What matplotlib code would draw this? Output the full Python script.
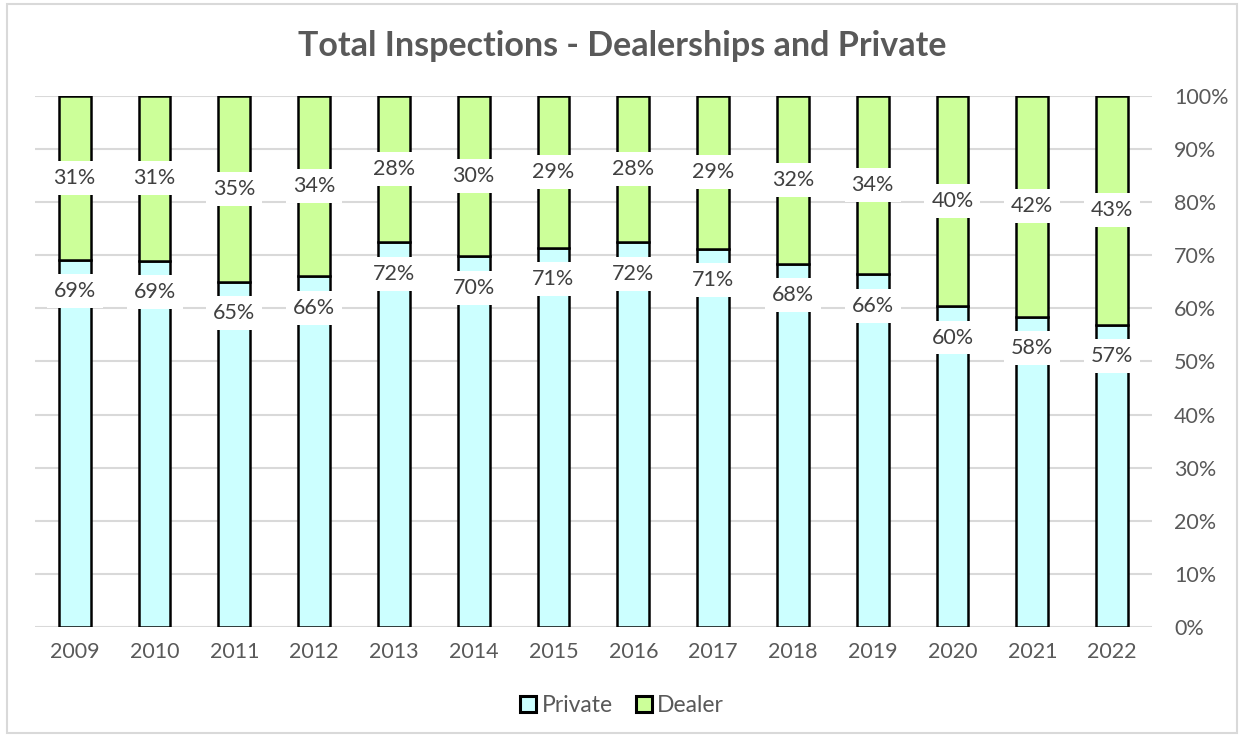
import matplotlib.pyplot as plt
from matplotlib.patches import Rectangle
from matplotlib.ticker import FuncFormatter

years = ["2009", "2010", "2011", "2012", "2013", "2014", "2015",
         "2016", "2017", "2018", "2019", "2020", "2021", "2022"]
private = [69.1, 69.0, 65.0, 66.0, 72.4, 69.8, 71.4,
           72.4, 71.2, 68.4, 66.4, 60.4, 58.4, 56.9]
dealer = [100 - p for p in private]

c_private = "#CCFFFF"
c_dealer = "#CCFF99"
txt = "#595959"

plt.rcParams['font.family'] = ['Lato', 'DejaVu Sans']

fig = plt.figure(figsize=(12.44, 7.37), dpi=100)
ax = fig.add_axes([0.028, 0.149, 0.898, 0.721])

x = list(range(len(years)))
ax.bar(x, private, width=0.4, color=c_private, edgecolor="black", linewidth=1.8, label="Private", zorder=3)
ax.bar(x, dealer, width=0.4, bottom=private, color=c_dealer, edgecolor="black", linewidth=1.8, label="Dealer", zorder=3)

box = dict(facecolor="white", edgecolor="none", pad=5)
for i in x:
    # private labels sit just under the split, dealer labels centred
    ax.text(i, private[i] - 5.9, f"{round(private[i])}%", ha="center", va="center",
            fontsize=15.5, color="#404040", bbox=box, zorder=4)
    ax.text(i, private[i] + dealer[i] / 2, f"{round(dealer[i])}%", ha="center", va="center",
            fontsize=15.5, color="#404040", bbox=box, zorder=4)

ax.set_xlim(-0.5, 13.5)
ax.set_ylim(0, 100)
ax.set_yticks(range(0, 101, 10))
ax.yaxis.set_major_formatter(FuncFormatter(lambda v, p: f"{v:.0f}%"))
ax.yaxis.tick_right()
ax.set_xticks(x)
ax.set_xticklabels(years)
ax.tick_params(axis="both", length=0, labelsize=15.5, labelcolor=txt)
ax.tick_params(axis="y", pad=16)
ax.tick_params(axis="x", pad=11)
ax.grid(axis="y", color="#d9d9d9", linewidth=1.5, zorder=0)
for s in ax.spines.values():
    s.set_visible(False)

fig.text(0.5, 0.937, "Total Inspections - Dealerships and Private", ha="center", va="center",
         fontsize=24.5, fontweight="bold", color=txt)

leg = fig.legend(loc="center", bbox_to_anchor=(0.5, 0.043), ncol=2, frameon=False,
                 fontsize=16.5, handlelength=0.7, handleheight=0.7, handletextpad=0.25,
                 columnspacing=1.0)
for t in leg.get_texts():
    t.set_color(txt)
for h in leg.legend_handles:
    h.set_linewidth(2.2)

fig.patches.append(Rectangle((0.006, 0.005), 0.988, 0.99, transform=fig.transFigure,
                             fill=False, edgecolor="#d9d9d9", linewidth=1.5))

fig.savefig("out.png", dpi=100)
